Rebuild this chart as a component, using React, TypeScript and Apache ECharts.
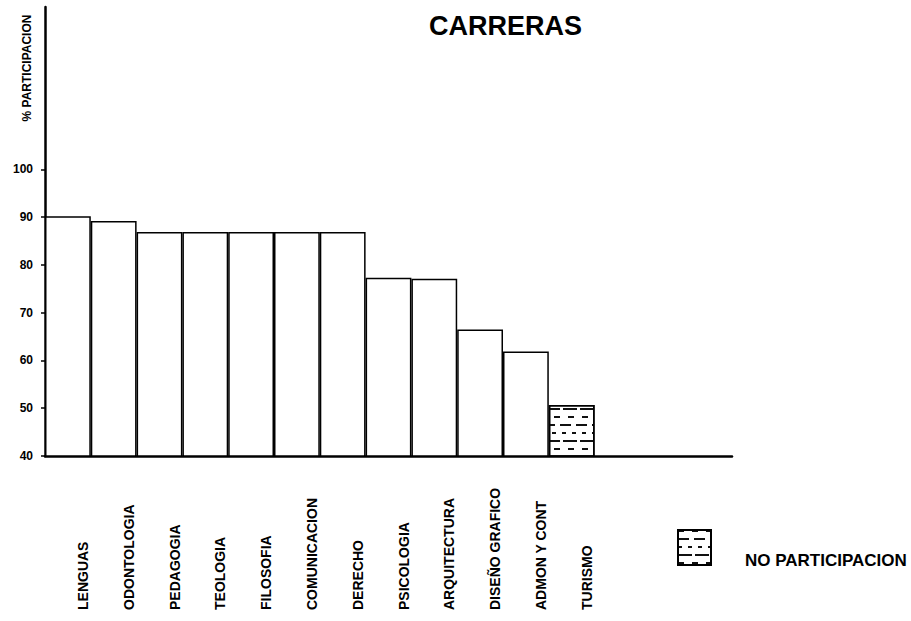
import React, { useEffect, useRef } from "react";
import * as echarts from "echarts";

const categories = [
  "LENGUAS",
  "ODONTOLOGIA",
  "PEDAGOGIA",
  "TEOLOGIA",
  "FILOSOFIA",
  "COMUNICACION",
  "DERECHO",
  "PSICOLOGIA",
  "ARQUITECTURA",
  "DISEÑO GRAFICO",
  "ADMON Y CONT",
  "TURISMO",
];
// empty slots to the right of the bars (axis continues)
const emptySlots = ["", "", ""];
const participacion = [90.2, 89.2, 86.9, 86.9, 86.9, 86.9, 86.9, 77.3, 77.1, 66.5, 61.9, null];
const noParticipacion = [null, null, null, null, null, null, null, null, null, null, null, 50.7];
const yTicks = [40, 50, 60, 70, 80, 90, 100];

const FONT = "'Liberation Sans', Arial, sans-serif";

export default function App() {
  const ref = useRef<HTMLDivElement>(null);
  useEffect(() => {
    if (!ref.current) return;
    const chart = echarts.init(ref.current, null, { renderer: "svg" });
    const hatch = {
      symbol: "rect",
      symbolSize: 1,
      color: "#111",
      backgroundColor: "#fff",
      dashArrayX: [
        [14, 3],
        [6, 8],
        [11, 5],
        [4, 6],
      ],
      dashArrayY: [1.3, 5.5],
      rotation: 0,
    };
    chart.setOption({
      animation: false,
      backgroundColor: "#fff",
      textStyle: { fontFamily: FONT, color: "#000" },
      title: {
        text: "CARRERAS",
        left: 424,
        top: 7,
        textStyle: { fontSize: 27, fontWeight: "bold", color: "#000", fontFamily: FONT },
      },
      legend: {
        data: ["NO PARTICIPACION"],
        left: 672,
        top: 521,
        icon: "rect",
        itemWidth: 33,
        itemHeight: 35,
        selectedMode: false,
        formatter: (name: string) => `\n\n${name}`,
        textStyle: {
          fontSize: 17,
          lineHeight: 13,
          fontWeight: "bold",
          color: "#000",
          fontFamily: FONT,
          padding: [0, 0, 0, 29],
        },
      },
      grid: { left: 45, top: 7, right: 179, bottom: 165, containLabel: false },
      xAxis: {
        type: "category",
        data: [...categories, ...emptySlots],
        boundaryGap: true,
        axisLine: { show: true, lineStyle: { color: "#000", width: 2.5 } },
        axisTick: { show: false },
        axisLabel: {
          interval: 0,
          rotate: 90,
          align: "left",
          verticalAlign: "middle",
          margin: 154,
          lineHeight: 15,
          formatter: (v: string) => (v ? `\n\n${v}` : ""),
          fontSize: 14,
          fontWeight: "bold",
          color: "#000",
          fontFamily: FONT,
        },
        splitLine: { show: false },
      },
      yAxis: {
        type: "value",
        min: 40,
        max: 134,
        interval: 10,
        axisLine: { show: true, lineStyle: { color: "#000", width: 2.5 } },
        axisTick: {
          show: true,
          length: 4,
          lineStyle: { color: "#000", width: 1.5 },
          customValues: yTicks,
        },
        axisLabel: {
          customValues: yTicks,
          margin: 12,
          fontSize: 12,
          fontWeight: "bold",
          color: "#000",
          fontFamily: FONT,
        },
        splitLine: { show: false },
      },
      graphic: [
        {
          type: "text",
          x: 27,
          y: 68,
          rotation: Math.PI / 2,
          style: {
            text: "% PARTICIPACION",
            fontSize: 12,
            fontWeight: "bold",
            fontFamily: FONT,
            fill: "#000",
            align: "center",
            verticalAlign: "middle",
          },
        },
      ],
      series: [
        {
          name: "PARTICIPACION",
          type: "bar",
          data: participacion,
          barCategoryGap: 0,
          barGap: "-100%",
          itemStyle: { color: "#fff", borderColor: "#000", borderWidth: 1.5 },
        },
        {
          name: "NO PARTICIPACION",
          type: "bar",
          data: noParticipacion,
          barCategoryGap: 0,
          barGap: "-100%",
          itemStyle: { color: "#fff", borderColor: "#000", borderWidth: 1.5, decal: hatch },
        },
      ],
    });
    return () => chart.dispose();
  }, []);
  return (
    <div
      ref={ref}
      style={{ position: "fixed", left: 0, top: 0, width: 911, height: 621 }}
    />
  );
}
